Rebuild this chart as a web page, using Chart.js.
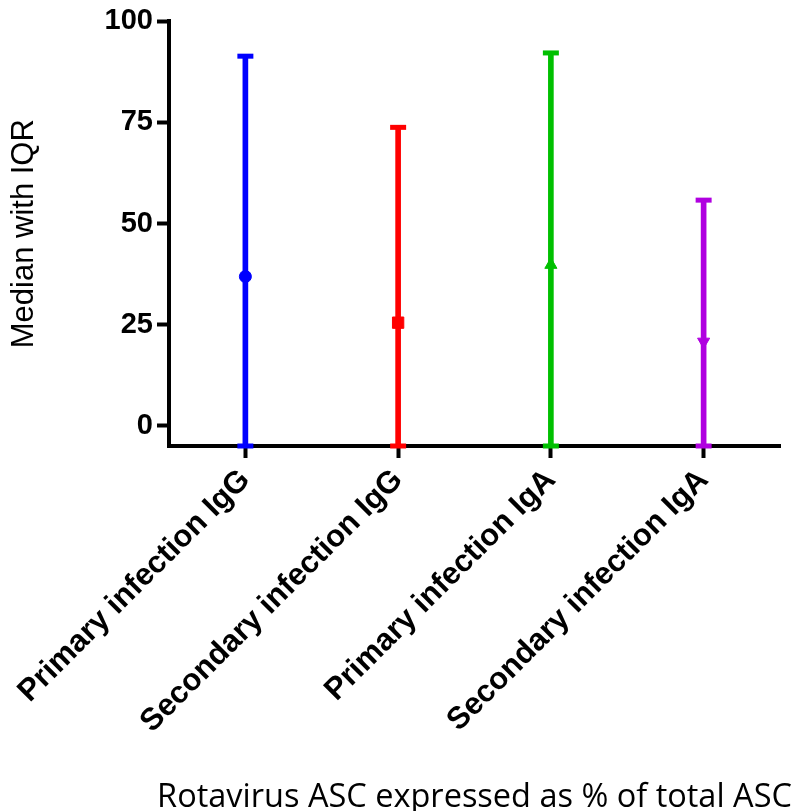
<!DOCTYPE html>
<html>
<head>
<meta charset="utf-8">
<script src="https://cdn.jsdelivr.net/npm/chart.js@4"></script>
<style>
  html, body { margin: 0; padding: 0; background: #fff; }
  #wrap { width: 796px; height: 811px; position: relative; }
</style>
</head>
<body>
<div id="wrap"><canvas id="c" width="796" height="811"></canvas></div>
<script>
const categories = ['Primary infection IgG', 'Secondary infection IgG', 'Primary infection IgA', 'Secondary infection IgA'];
const medians = [36.9, 25.5, 39.8, 20.8];
const lowerQuartiles = [-5, -5, -5, -5];
const upperQuartiles = [91.4, 73.8, 92.2, 55.8];
const seriesColors = ['#0000FF', '#FF0000', '#00C000', '#B000E0'];
const yTickValues = [0, 25, 50, 75, 100];
const yTitle = 'Median with IQR';
const xTitle = 'Rotavirus ASC expressed as % of total ASC';

const ranges = categories.map((c, i) => [lowerQuartiles[i], upperQuartiles[i]]);

// Draws the x-axis title centred under the plot area without Chart.js' width clamp
const xTitlePlugin = {
  id: 'xTitlePlugin',
  afterDraw(chart) {
    const { ctx, chartArea } = chart;
    ctx.save();
    ctx.font = '32.5px "Open Sans"';
    ctx.fillStyle = '#000';
    ctx.textAlign = 'center';
    ctx.textBaseline = 'alphabetic';
    ctx.fillText(xTitle, (chartArea.left + chartArea.right) / 2, chart.height - 4);
    ctx.restore();
  }
};

new Chart(document.getElementById('c'), {
  type: 'bar',
  data: {
    labels: categories,
    datasets: [
      {
        type: 'bar',
        data: ranges,
        backgroundColor: seriesColors,
        borderWidth: 0,
        barThickness: 5,
        clip: false,
        order: 3
      },
      {
        type: 'line',
        data: upperQuartiles,
        showLine: false,
        pointStyle: 'line',
        pointRadius: 8,
        pointBorderWidth: 5,
        pointBorderColor: seriesColors,
        pointBackgroundColor: seriesColors,
        clip: false,
        order: 2
      },
      {
        type: 'line',
        data: lowerQuartiles,
        showLine: false,
        pointStyle: 'line',
        pointRadius: 8,
        pointBorderWidth: 5,
        pointBorderColor: seriesColors,
        pointBackgroundColor: seriesColors,
        clip: false,
        order: 2
      },
      {
        type: 'line',
        data: medians,
        showLine: false,
        pointStyle: ['circle', 'rect', 'triangle', 'triangle'],
        pointRotation: [0, 0, 0, 180],
        pointRadius: [6, 8, 7, 7],
        pointBorderWidth: 1,
        pointBorderColor: seriesColors,
        pointBackgroundColor: seriesColors,
        clip: false,
        order: 1
      }
    ]
  },
  plugins: [xTitlePlugin],
  options: {
    responsive: false,
    animation: false,
    events: [],
    layout: { padding: { top: 21, right: 16, left: 0, bottom: 0 } },
    plugins: { legend: { display: false }, tooltip: { enabled: false } },
    scales: {
      x: {
        offset: true,
        grid: {
          display: true,
          offset: false,
          drawOnChartArea: false,
          drawTicks: true,
          tickLength: 12,
          tickWidth: 4,
          tickColor: '#000'
        },
        border: { display: true, color: '#000', width: 4 },
        ticks: {
          autoSkip: false,
          minRotation: 45,
          maxRotation: 45,
          padding: 4,
          color: '#000',
          font: { family: 'Liberation Sans', weight: 'bold', size: 31 }
        },
        title: { display: false },
        afterFit: (s) => { s.height = 365; s.paddingLeft = 0; s.paddingRight = 0; }
      },
      y: {
        min: -5,
        max: 100,
        grid: {
          display: true,
          drawOnChartArea: false,
          drawTicks: true,
          tickLength: 12,
          tickWidth: 4,
          tickColor: '#000'
        },
        border: { display: true, color: '#000', width: 4 },
        ticks: {
          stepSize: 25,
          padding: 4,
          color: '#000',
          font: { family: 'Liberation Sans', weight: 'bold', size: 29 }
        },
        afterBuildTicks: (s) => { s.ticks = yTickValues.map(v => ({ value: v })); },
        title: {
          display: true,
          text: yTitle,
          color: '#000',
          padding: { top: 6, bottom: 0 },
          font: { family: 'Liberation Sans', size: 31 }
        },
        afterFit: (s) => { s.width = 169; }
      }
    }
  }
});
</script>
</body>
</html>
